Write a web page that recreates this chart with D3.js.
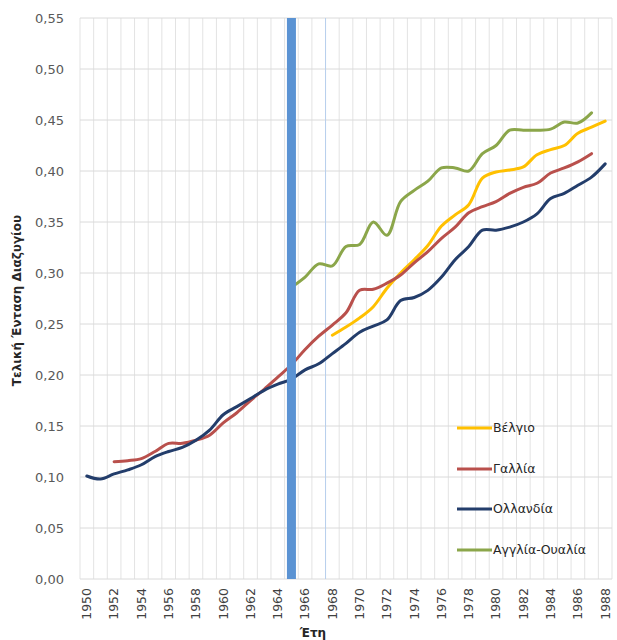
<!DOCTYPE html>
<html>
<head>
<meta charset="utf-8">
<script src="https://cdn.jsdelivr.net/npm/d3@7"></script>
<style>
  html, body { margin: 0; padding: 0; background: #ffffff; }
  svg { display: block; }
</style>
</head>
<body>
<svg id="chart" width="617" height="640"></svg>
<script>
// ---- data ----
const years = d3.range(1950, 1989);
const yTicks = [0, 0.05, 0.10, 0.15, 0.20, 0.25, 0.30, 0.35, 0.40, 0.45, 0.50, 0.55];
const xTickYears = d3.range(1950, 1989, 2);
const markerYear = 1965;
const seriesNames = ["Βέλγιο", "Γαλλία", "Ολλανδία", "Αγγλία-Ουαλία"];
const seriesColors = ["#FFC000", "#B9504C", "#233D6B", "#8BA64A"];

// Belgium 1968–1988
const belgiumStart = 1968;
const belgium = [0.239, 0.247, 0.256, 0.267, 0.285, 0.300, 0.313, 0.327, 0.346, 0.357,
  0.367, 0.393, 0.399, 0.401, 0.404, 0.416, 0.421, 0.425, 0.437, 0.443, 0.449];
// France 1952–1987
const franceStart = 1952;
const france = [0.115, 0.116, 0.118, 0.125, 0.133, 0.133, 0.136, 0.141, 0.153, 0.163,
  0.175, 0.186, 0.198, 0.210, 0.225, 0.238, 0.249, 0.261, 0.283, 0.284,
  0.290, 0.298, 0.310, 0.321, 0.334, 0.345, 0.359, 0.365, 0.370, 0.378,
  0.384, 0.388, 0.398, 0.403, 0.409, 0.417];
// Netherlands 1950–1988
const netherlandsStart = 1950;
const netherlands = [0.101, 0.098, 0.103, 0.107, 0.112, 0.120, 0.125, 0.129, 0.136, 0.146,
  0.161, 0.169, 0.177, 0.185, 0.191, 0.196, 0.205, 0.211, 0.221, 0.231,
  0.242, 0.248, 0.254, 0.273, 0.276, 0.283, 0.296, 0.313, 0.326, 0.342,
  0.342, 0.345, 0.350, 0.358, 0.373, 0.378, 0.386, 0.394, 0.407];
// England-Wales 1965–1987
const englandStart = 1965;
const england = [0.286, 0.296, 0.309, 0.307, 0.326, 0.328, 0.350, 0.337, 0.370, 0.381,
  0.390, 0.403, 0.403, 0.400, 0.417, 0.425, 0.440, 0.440, 0.440, 0.441,
  0.448, 0.447, 0.457];

const seriesData = [
  belgium.map((v, i) => ({ year: belgiumStart + i, v })),
  france.map((v, i) => ({ year: franceStart + i, v })),
  netherlands.map((v, i) => ({ year: netherlandsStart + i, v })),
  england.map((v, i) => ({ year: englandStart + i, v }))
];

// ---- layout ----
const svg = d3.select("#chart");
const plotL = 80, plotR = 612, plotT = 18, plotB = 579;

const x = d3.scaleBand().domain(years).range([plotL, plotR]).padding(0);
const xc = yr => x(yr) + x.bandwidth() / 2;
const y = d3.scaleLinear().domain([0, 0.55]).range([plotB, plotT]);

const fmt = v => d3.format(".2f")(v).replace(".", ",");
const font = "'DejaVu Sans', 'Liberation Sans', sans-serif";

// vertical gridlines at category boundaries
const bounds = years.map(yr => x(yr)).concat([plotR]);
svg.append("g").selectAll("line").data(bounds).join("line")
  .attr("x1", d => d).attr("x2", d => d)
  .attr("y1", plotT).attr("y2", plotB)
  .attr("stroke", "#e3e3e3").attr("stroke-width", 1);

// horizontal gridlines
svg.append("g").selectAll("line").data(yTicks).join("line")
  .attr("x1", plotL).attr("x2", plotR)
  .attr("y1", d => y(d)).attr("y2", d => y(d))
  .attr("stroke", "#dadada").attr("stroke-width", 1);

// faint light blue line
svg.append("line")
  .attr("x1", x(1968)).attr("x2", x(1968))
  .attr("y1", plotT).attr("y2", plotB)
  .attr("stroke", "#b8d0ee").attr("stroke-width", 1);

// y axis labels
const yAxis = d3.axisLeft(y).tickValues(yTicks).tickFormat(fmt).tickSize(0).tickPadding(16);
const gy = svg.append("g").attr("transform", `translate(${plotL},0)`).call(yAxis);
gy.select(".domain").remove();
gy.selectAll("text").attr("font-family", font).attr("font-size", 13).attr("fill", "#595959");

// x axis labels
const xAxis = d3.axisBottom(x).tickValues(xTickYears).tickSize(0).tickPadding(0);
const gx = svg.append("g").attr("transform", `translate(0,${plotB})`).call(xAxis);
gx.select(".domain").remove();
gx.selectAll("text")
  .attr("font-family", font).attr("font-size", 12.5).attr("fill", "#404040")
  .attr("transform", "rotate(-90)")
  .attr("text-anchor", "end")
  .attr("x", -9).attr("y", 0).attr("dy", "0.35em");

// lines
const line = d3.line()
  .x(d => xc(d.year)).y(d => y(d.v))
  .curve(d3.curveCatmullRom.alpha(0.5));

svg.append("g").selectAll("path").data(seriesData).join("path")
  .attr("d", d => line(d))
  .attr("fill", "none")
  .attr("stroke", (d, i) => seriesColors[i])
  .attr("stroke-width", 3)
  .attr("stroke-linejoin", "round")
  .attr("stroke-linecap", "round");

// vertical marker bar at 1965
svg.append("rect")
  .attr("x", xc(markerYear) - 4.5).attr("width", 9)
  .attr("y", plotT).attr("height", plotB - plotT)
  .attr("fill", "#5B93D3");

// legend
const legendY = [428, 469, 509, 550];
const lg = svg.append("g").selectAll("g").data(seriesNames).join("g")
  .attr("transform", (d, i) => `translate(457,${legendY[i]})`);
lg.append("line").attr("x1", 0).attr("x2", 35).attr("y1", 0).attr("y2", 0)
  .attr("stroke", (d, i) => seriesColors[i]).attr("stroke-width", 3);
lg.append("text").attr("x", 36).attr("y", 0).attr("dy", "0.35em")
  .attr("font-family", font).attr("font-size", 12.5).attr("fill", "#262626")
  .text(d => d);

// axis titles
svg.append("text")
  .attr("transform", `translate(17,${(plotT + plotB) / 2 + 2}) rotate(-90)`)
  .attr("text-anchor", "middle").attr("dy", "0.35em")
  .attr("font-family", font).attr("font-size", 12).attr("font-weight", "bold")
  .attr("fill", "#262626")
  .text("Τελική Ένταση Διαζυγίου");

svg.append("text")
  .attr("x", 313).attr("y", 637)
  .attr("text-anchor", "middle")
  .attr("font-family", font).attr("font-size", 12).attr("font-weight", "bold")
  .attr("fill", "#262626")
  .text("Έτη");
</script>
</body>
</html>
